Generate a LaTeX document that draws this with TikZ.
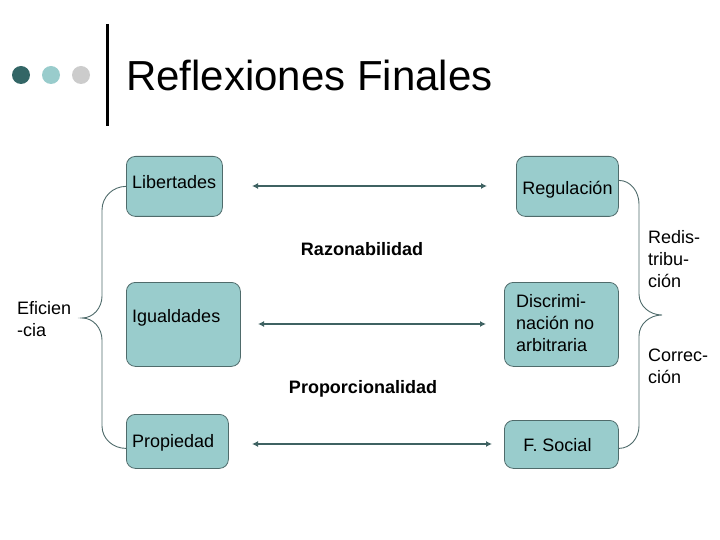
\documentclass[tikz,border=0pt]{standalone}
\usepackage{fontspec}
\setmainfont{Liberation Sans}
\usetikzlibrary{arrows.meta}
\definecolor{boxfill}{HTML}{99CCCC}
\definecolor{boxline}{HTML}{4F6B6B}
\definecolor{arrowc}{HTML}{3F6262}
\definecolor{dotA}{HTML}{336666}
\definecolor{dotB}{HTML}{99CCCC}
\definecolor{dotC}{HTML}{CCCCCC}
\begin{document}
\begin{tikzpicture}[x=1bp,y=-1bp,
  box/.style={draw=boxline, fill=boxfill, rounded corners=9bp, line width=0.8bp, inner sep=0, anchor=north west},
  txt/.style={inner sep=0, font=\fontsize{18bp}{22bp}\selectfont},
  btxt/.style={inner sep=0, font=\fontsize{18bp}{22bp}\selectfont\bfseries},
  link/.style={draw=arrowc, line width=1.6bp, {Latex[length=6bp,width=6bp]}-{Latex[length=6bp,width=6bp]}},
  brace/.style={draw=boxline, line width=0.9bp},
  dot/.style={circle, inner sep=0, minimum size=18bp}]
\useasboundingbox (0,0) rectangle (720,540);
% header
\node[dot, fill=dotA] (d1) at (21,75) {};
\node[dot, fill=dotB] (d2) at (51,75) {};
\node[dot, fill=dotC] (d3) at (81,75) {};
\draw[line width=3bp] (107,24) -- (107,126);
\node[inner sep=0, anchor=base west, font=\fontsize{42bp}{48bp}\selectfont] (title) at (126,91) {Reflexiones Finales};
% boxes
\node[box, minimum width=96bp, minimum height=60bp] (lib) at (126,156) {};
\node[box, minimum width=114bp, minimum height=84bp] (igu) at (126,282) {};
\node[box, minimum width=102bp, minimum height=54bp] (pro) at (126,414) {};
\node[box, minimum width=102bp, minimum height=60bp] (reg) at (516,156) {};
\node[box, minimum width=114bp, minimum height=84bp] (dis) at (504,282) {};
\node[box, minimum width=114bp, minimum height=48bp] (fso) at (504,420) {};
% box texts
\node[txt, anchor=base west] (tlib) at (132,189) {Libertades};
\node[txt, anchor=base west] (tigu) at (132,322) {Igualdades};
\node[txt, anchor=base west] (tpro) at (132,447) {Propiedad};
\node[txt, anchor=base] (treg) at (567.5,195) {Regulación};
\node[txt, anchor=north west, align=left] (tdis) at (516,294) {Discrimi-\\nación no\\arbitraria};
\node[txt, anchor=base] (tfso) at (557.5,451) {F. Social};
% middle labels
\node[btxt, anchor=base] (traz) at (362,256) {Razonabilidad};
\node[btxt, anchor=base] (tprop) at (363,393) {Proporcionalidad};
% side labels
\node[txt, anchor=north west, align=left] (tefi) at (17,301) {Eficien\\-cia};
\node[txt, anchor=north west, align=left] (tred) at (648,230) {Redis-\\tribu-\\ción};
\node[txt, anchor=north west, align=left] (tcor) at (648,349) {Correc-\\ción};
% arrows
\coordinate (a1l) at (252,186); \coordinate (a1r) at (487,186);
\coordinate (a2l) at (258,324); \coordinate (a2r) at (486,324);
\coordinate (a3l) at (252,444); \coordinate (a3r) at (492,444);
\draw[link] (a1l) -- (a1r);
\draw[link] (a2l) -- (a2r);
\draw[link] (a3l) -- (a3r);
% braces
\draw[brace] (lib.west) to[out=180,in=90] (102,210) -- (102,296)
  to[out=-90,in=0] (82,318) to[out=0,in=90] (102,340) -- (102,426)
  to[out=-90,in=180] ([yshift=-7bp]pro.west);
\draw[brace] ([yshift=6bp]reg.east) to[out=0,in=90] (639,204) -- (639,294)
  to[out=-90,in=180] (662,315) to[out=180,in=90] (639,336) -- (639,426)
  to[out=-90,in=0] ([yshift=-4bp]fso.east);
\end{tikzpicture}
\end{document}
